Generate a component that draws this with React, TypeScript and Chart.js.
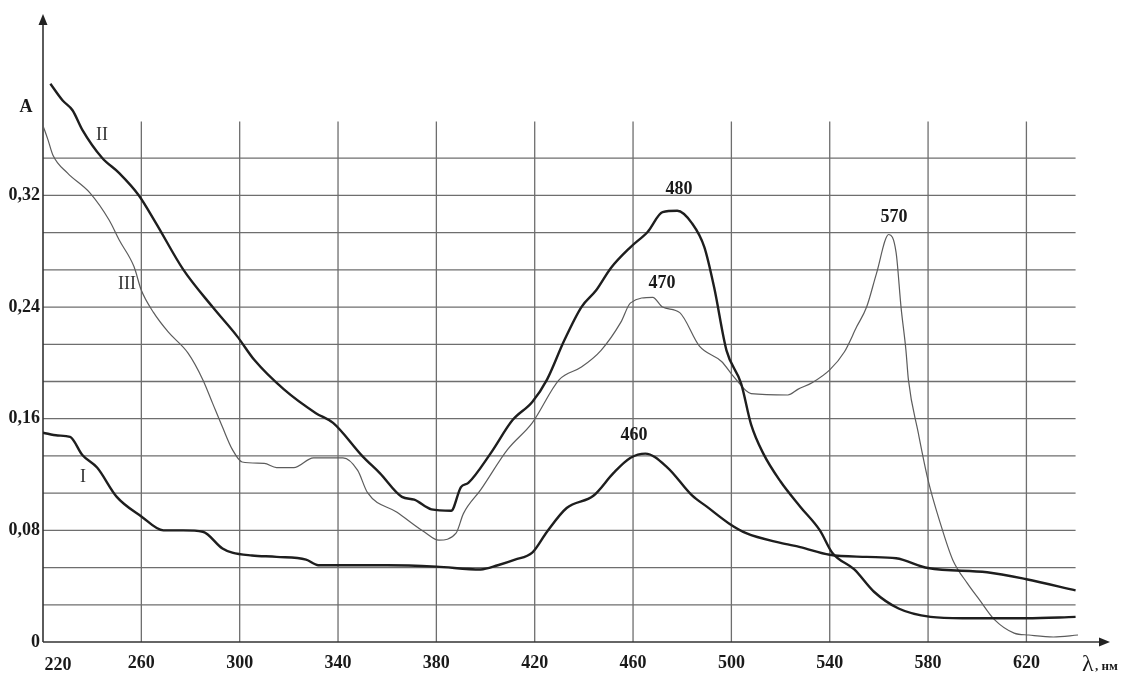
import { useEffect, useRef } from 'react';
import { Chart, registerables } from 'chart.js';

Chart.register(...registerables);

const FONT = '"Liberation Serif", "Times New Roman", serif';

// Axis ticks / grid
const X_TICKS = [220, 260, 300, 340, 380, 420, 460, 500, 540, 580, 620];
const Y_STEP = 0.08 / 3;
const Y_GRID_COUNT = 13;
const Y_LABELS = ['0', '0,08', '0,16', '0,24', '0,32'];
const X_MIN = 220;
const X_MAX = 654;
const Y_MAX = 0.45;
const GRID_X_END = 640;
const GRID_Y_TOP = 0.373;

// Curve I
const I_X = [220, 226, 231, 236, 242, 250, 260, 269, 277, 285, 293, 297, 305, 315, 327, 332, 345, 360, 380, 398, 405, 412, 419, 425, 433, 444, 452, 459, 465, 474, 484, 490, 499, 506, 520, 528, 540, 555, 567, 580, 604, 620, 640];
const I_Y = [0.150, 0.148, 0.147, 0.134, 0.125, 0.104, 0.090, 0.080, 0.080, 0.079, 0.067, 0.064, 0.062, 0.061, 0.059, 0.055, 0.055, 0.055, 0.054, 0.052, 0.055, 0.059, 0.064, 0.079, 0.096, 0.105, 0.121, 0.132, 0.135, 0.125, 0.105, 0.097, 0.085, 0.078, 0.071, 0.068, 0.0625, 0.061, 0.060, 0.053, 0.050, 0.045, 0.037];

// Curve II
const II_X = [223, 228, 232, 236, 244, 251, 259, 266, 277, 289, 299, 306, 318, 331, 338, 350, 357, 366, 371, 378, 386, 390, 393, 402, 411, 419, 425, 432, 439, 445, 451, 459, 466, 472, 478, 484, 489, 493, 498, 504, 508, 513, 520, 528, 536, 541, 550, 558, 568, 581, 594, 620, 640];
const II_Y = [0.400, 0.388, 0.381, 0.367, 0.347, 0.336, 0.320, 0.300, 0.267, 0.240, 0.219, 0.202, 0.181, 0.164, 0.157, 0.133, 0.121, 0.104, 0.102, 0.095, 0.094, 0.111, 0.114, 0.135, 0.159, 0.172, 0.188, 0.216, 0.240, 0.252, 0.268, 0.283, 0.294, 0.308, 0.309, 0.300, 0.283, 0.254, 0.209, 0.185, 0.156, 0.135, 0.115, 0.097, 0.080, 0.064, 0.052, 0.036, 0.024, 0.018, 0.017, 0.017, 0.018];

// Curve III
const III_X = [220, 222, 224, 230, 239, 247, 251, 257, 260, 265, 271, 279, 285, 289, 293, 297, 301, 310, 315, 322, 330, 342, 348, 352, 364, 375, 381, 388, 391, 398, 409, 419, 430, 439, 447, 455, 459, 468, 472, 479, 487, 496, 501, 508, 523, 527, 533, 540, 546, 551, 555, 559, 564, 567, 569, 571, 572, 576, 580, 585, 590, 596, 601, 607, 615, 621, 631, 641];
const III_Y = [0.370, 0.360, 0.349, 0.336, 0.322, 0.302, 0.288, 0.269, 0.252, 0.236, 0.222, 0.207, 0.188, 0.171, 0.154, 0.138, 0.129, 0.128, 0.125, 0.125, 0.132, 0.132, 0.123, 0.107, 0.093, 0.079, 0.073, 0.078, 0.092, 0.109, 0.138, 0.157, 0.188, 0.197, 0.209, 0.229, 0.243, 0.247, 0.240, 0.236, 0.212, 0.201, 0.190, 0.178, 0.177, 0.181, 0.186, 0.195, 0.208, 0.226, 0.240, 0.264, 0.292, 0.279, 0.240, 0.209, 0.188, 0.150, 0.116, 0.085, 0.059, 0.042, 0.030, 0.016, 0.0064, 0.005, 0.0036, 0.005];

// Annotations (data coordinates)
const PEAK_TEXT = ['480', '470', '460', '570'];
const PEAK_X = [478.7, 471.8, 460.4, 566.1];
const PEAK_Y = [0.324, 0.257, 0.148, 0.304];
const CURVE_TEXT = ['II', 'III', 'I'];
const CURVE_X = [244, 254.2, 236.3];
const CURVE_Y = [0.363, 0.2565, 0.118];

const pts = (xs: number[], ys: number[]) => xs.map((x, i) => ({ x, y: ys[i] }));

const decor = {
  id: 'decor',
  beforeDatasetsDraw(chart: any) {
    const { ctx, scales } = chart;
    const x = scales.x;
    const y = scales.y;
    ctx.save();
    ctx.strokeStyle = '#6e6e6e';
    ctx.lineWidth = 1.3;
    const x0 = x.getPixelForValue(X_MIN);
    const xe = x.getPixelForValue(GRID_X_END);
    const y0 = y.getPixelForValue(0);
    const yt = y.getPixelForValue(GRID_Y_TOP);
    for (let k = 1; k <= Y_GRID_COUNT; k++) {
      const py = y.getPixelForValue(k * Y_STEP);
      ctx.beginPath();
      ctx.moveTo(x0, py);
      ctx.lineTo(xe, py);
      ctx.stroke();
    }
    for (const v of X_TICKS.slice(1)) {
      const px = x.getPixelForValue(v);
      ctx.beginPath();
      ctx.moveTo(px, y0);
      ctx.lineTo(px, yt);
      ctx.stroke();
    }
    // axes with arrows
    ctx.strokeStyle = '#333';
    ctx.fillStyle = '#222';
    ctx.lineWidth = 1.6;
    const right = chart.chartArea.right;
    const top = chart.chartArea.top;
    ctx.beginPath();
    ctx.moveTo(x0, y0);
    ctx.lineTo(right - 6, y0);
    ctx.stroke();
    ctx.beginPath();
    ctx.moveTo(right, y0);
    ctx.lineTo(right - 11, y0 - 4.5);
    ctx.lineTo(right - 11, y0 + 4.5);
    ctx.closePath();
    ctx.fill();
    ctx.beginPath();
    ctx.moveTo(x0, y0);
    ctx.lineTo(x0, top + 6);
    ctx.stroke();
    ctx.beginPath();
    ctx.moveTo(x0, top);
    ctx.lineTo(x0 - 4.5, top + 11);
    ctx.lineTo(x0 + 4.5, top + 11);
    ctx.closePath();
    ctx.fill();
    ctx.restore();
  },
  afterDraw(chart: any) {
    const { ctx, scales, chartArea } = chart;
    const x = scales.x;
    const y = scales.y;
    ctx.save();
    ctx.fillStyle = '#1a1a1a';
    ctx.textAlign = 'center';
    ctx.textBaseline = 'middle';
    ctx.font = `bold 18px ${FONT}`;
    PEAK_TEXT.forEach((t, i) => ctx.fillText(t, x.getPixelForValue(PEAK_X[i]), y.getPixelForValue(PEAK_Y[i])));
    // "220" label shifted right of the axis
    ctx.fillText('220', x.getPixelForValue(X_MIN) + 15, y.getPixelForValue(0) + 23);
    // A
    ctx.fillText('A', chartArea.left - 17, y.getPixelForValue(0.383));
    ctx.font = `18px ${FONT}`;
    ctx.fillStyle = '#333';
    CURVE_TEXT.forEach((t, i) => ctx.fillText(t, x.getPixelForValue(CURVE_X[i]), y.getPixelForValue(CURVE_Y[i])));
    // λ, нм
    ctx.fillStyle = '#1a1a1a';
    ctx.textAlign = 'left';
    ctx.textBaseline = 'alphabetic';
    ctx.font = `24px ${FONT}`;
    ctx.fillText('λ', 1082, 671);
    ctx.font = `bold 13px ${FONT}`;
    ctx.fillText(', нм', 1095, 670);
    ctx.restore();
  },
};

export default function App() {
  const ref = useRef<HTMLCanvasElement | null>(null);
  useEffect(() => {
    document.body.style.margin = '0';
    const canvas = ref.current;
    if (!canvas) return;
    const chart = new Chart(canvas, {
      type: 'line',
      data: {
        datasets: [
          { label: 'I', data: pts(I_X, I_Y), borderColor: '#1e1e1e', borderWidth: 2.4 },
          { label: 'II', data: pts(II_X, II_Y), borderColor: '#1e1e1e', borderWidth: 2.4 },
          { label: 'III', data: pts(III_X, III_Y), borderColor: '#5c5c5c', borderWidth: 1.2 },
        ],
      },
      options: {
        animation: false,
        responsive: false,
        maintainAspectRatio: false,
        layout: { padding: { top: 14, right: 19, left: 0, bottom: 0 } },
        plugins: { legend: { display: false }, tooltip: { enabled: false } },
        elements: { point: { radius: 0 }, line: { cubicInterpolationMode: 'monotone' } },
        scales: {
          x: {
            type: 'linear',
            min: X_MIN,
            max: X_MAX,
            afterBuildTicks: (s: any) => { s.ticks = X_TICKS.map((v) => ({ value: v })); },
            afterFit: (s: any) => { s.height = 33; },
            grid: { display: false, drawTicks: false },
            border: { display: false },
            ticks: {
              autoSkip: false,
              maxRotation: 0,
              padding: 11,
              color: '#1a1a1a',
              font: { family: FONT, size: 18, weight: 'bold' },
              callback: (v: any) => (v === X_MIN ? '' : String(v)),
            },
          },
          y: {
            type: 'linear',
            min: 0,
            max: Y_MAX,
            afterBuildTicks: (s: any) => {
              s.ticks = Array.from({ length: Y_GRID_COUNT + 1 }, (_, k) => ({ value: k * Y_STEP }));
            },
            afterFit: (s: any) => { s.width = 43; },
            grid: { display: false, drawTicks: false },
            border: { display: false },
            ticks: {
              autoSkip: false,
              padding: 3,
              color: '#1a1a1a',
              font: { family: FONT, size: 18, weight: 'bold' },
              callback: (_v: any, i: number) => (i % 3 === 0 ? Y_LABELS[i / 3] : ''),
            },
          },
        },
      },
      plugins: [decor],
    } as any);
    return () => chart.destroy();
  }, []);
  return (
    <canvas
      ref={ref}
      width={1129}
      height={675}
      style={{ display: 'block', position: 'fixed', left: 0, top: 0, background: '#fff' }}
    />
  );
}
